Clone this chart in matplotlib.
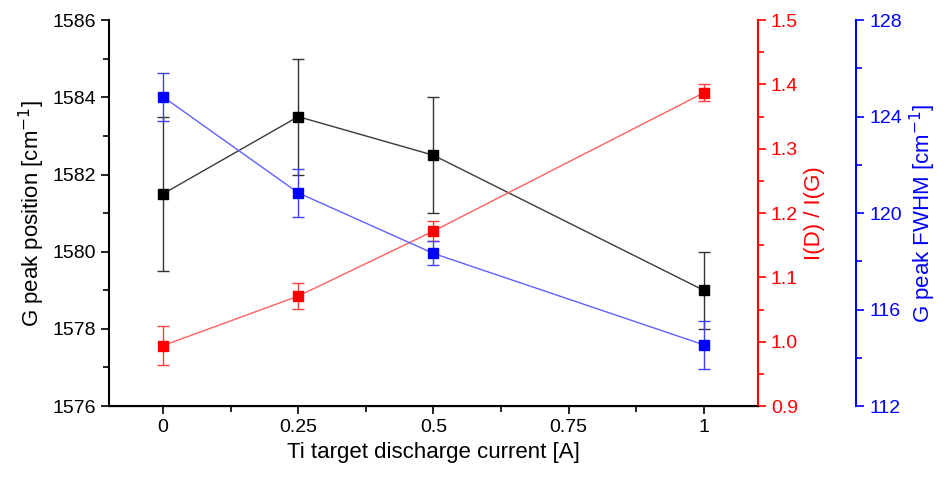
import matplotlib.pyplot as plt
from matplotlib.ticker import MultipleLocator
import numpy as np

plt.rcParams['font.family'] = ['Liberation Sans', 'DejaVu Sans']

# Ti target discharge current [A]
current = np.array([0, 0.25, 0.5, 1.0])

# G peak position [cm-1]
g_pos = np.array([1581.5, 1583.5, 1582.5, 1579.0])
g_pos_err = np.array([2.0, 1.5, 1.5, 1.0])

# I(D)/I(G)
id_ig = np.array([0.994, 1.071, 1.172, 1.387])
id_ig_err = np.array([0.03, 0.02, 0.016, 0.013])

# G peak FWHM [cm-1]
fwhm = np.array([124.82, 120.84, 118.33, 114.54])
fwhm_err = np.array([1.0, 1.0, 0.5, 1.0])

fig = plt.figure(figsize=(9.52, 4.8), dpi=100)
ax = fig.add_axes([0.1145, 0.154, 0.6815, 0.804])
ax2 = ax.twinx()
ax3 = ax.twinx()
ax3.spines['right'].set_position(('axes', 1.152))

ax.errorbar(current, g_pos, yerr=g_pos_err, color='#3a3a3a', marker='s', ms=7,
            mfc='black', mec='black', lw=1, capsize=4, elinewidth=1,
            ecolor='#333333', zorder=3)
ax2.errorbar(current, id_ig, yerr=id_ig_err, color='#ff6060', marker='s', ms=7,
             mfc='red', mec='red', lw=1, capsize=4, elinewidth=1, ecolor='#ff4040')
ax3.errorbar(current, fwhm, yerr=fwhm_err, color='#6060ff', marker='s', ms=7,
             mfc='blue', mec='blue', lw=1, capsize=4, elinewidth=1, ecolor='#4040ff')

ax.set_xlim(-0.1, 1.1)
ax.set_ylim(1576, 1586)
ax2.set_ylim(0.9, 1.5)
ax3.set_ylim(112, 128)

ax.set_xticks([0, 0.25, 0.5, 0.75, 1])
ax.set_xticklabels(['0', '0.25', '0.5', '0.75', '1'])
ax.xaxis.set_minor_locator(MultipleLocator(0.125))
ax.yaxis.set_major_locator(MultipleLocator(2))
ax.yaxis.set_minor_locator(MultipleLocator(1))
ax2.yaxis.set_major_locator(MultipleLocator(0.1))
ax2.yaxis.set_minor_locator(MultipleLocator(0.05))
ax2.yaxis.set_major_formatter(plt.FormatStrFormatter('%.1f'))
ax3.yaxis.set_major_locator(MultipleLocator(4))
ax3.yaxis.set_minor_locator(MultipleLocator(2))

for a in (ax, ax2, ax3):
    a.spines['top'].set_visible(False)
ax.spines['right'].set_visible(False)
ax2.spines['left'].set_visible(False)
ax3.spines['left'].set_visible(False)
ax2.spines['right'].set_color('red')
ax3.spines['right'].set_color('blue')
for s in ('left', 'bottom'):
    ax.spines[s].set_linewidth(1.5)
ax2.spines['right'].set_linewidth(1.5)
ax3.spines['right'].set_linewidth(1.5)

for a, c in ((ax, 'black'), (ax2, 'red'), (ax3, 'blue')):
    a.tick_params(which='both', direction='out', labelsize=14, width=1.2,
                  colors=c)
    a.tick_params(which='major', length=6)
    a.tick_params(which='minor', length=4)

ax.set_xlabel('Ti target discharge current [A]', fontsize=16)
ax.set_ylabel('G peak position [cm$^{-1}$]', fontsize=16)
ax2.set_ylabel('I(D) / I(G)', fontsize=16, color='red')
ax3.set_ylabel('G peak FWHM [cm$^{-1}$]', fontsize=16, color='blue')

fig.savefig('out.png', dpi=100)
